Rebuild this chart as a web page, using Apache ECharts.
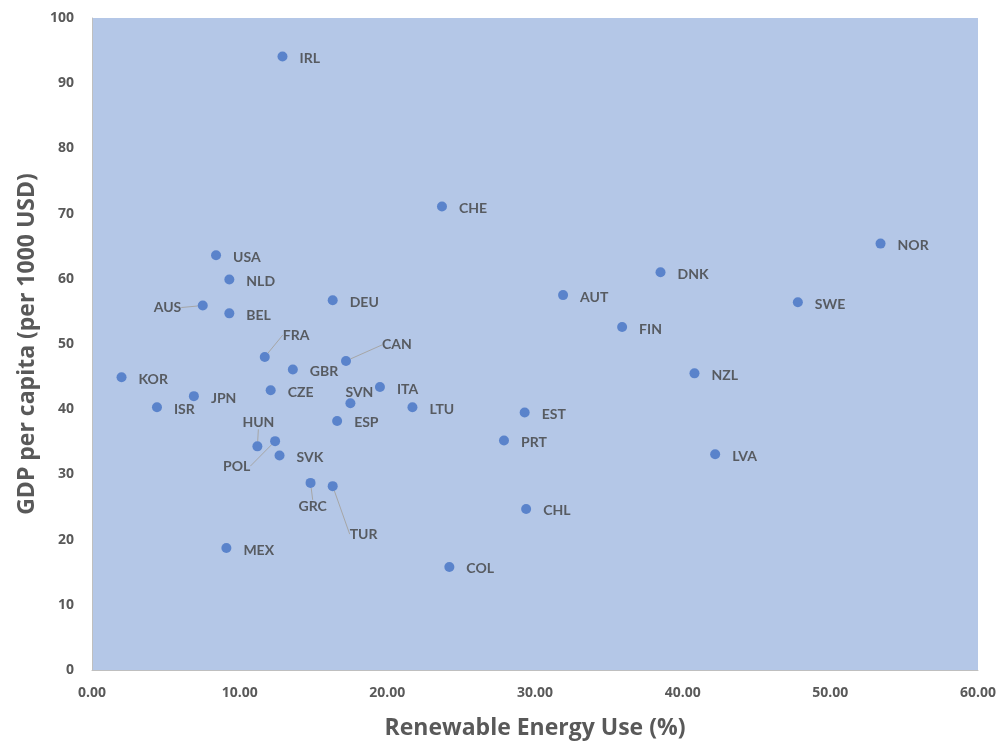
<!DOCTYPE html>
<html>
<head>
<meta charset="utf-8">
<script src="https://cdn.jsdelivr.net/npm/echarts@6/dist/echarts.min.js"></script>
<style>
html,body{margin:0;padding:0;background:#fff;}
#c{width:1005px;height:742px;}
</style>
</head>
<body>
<div id="c"></div>
<script>
const countries = ['IRL','CHE','NOR','USA','NLD','DNK','AUT','DEU','AUS','SWE','BEL','FIN','FRA','CAN','GBR','NZL','KOR','CZE','ITA','JPN','SVN','ISR','LTU','EST','ESP','PRT','HUN','POL','SVK','LVA','GRC','TUR','CHL','MEX','COL'];
const renewable = [12.9,23.7,53.4,8.4,9.3,38.5,31.9,16.3,7.5,47.8,9.3,35.9,11.7,17.2,13.6,40.8,2.0,12.1,19.5,6.9,17.5,4.4,21.7,29.3,16.6,27.9,11.2,12.4,12.7,42.2,14.8,16.3,29.4,9.1,24.2];
const gdp = [94.1,71.1,65.4,63.6,59.9,61.0,57.5,56.7,55.9,56.4,54.7,52.6,48.0,47.4,46.1,45.5,44.9,42.9,43.4,42.0,40.9,40.3,40.3,39.5,38.2,35.2,34.3,35.1,32.9,33.1,28.7,28.2,24.7,18.7,15.8];
const xTicks = [0,10,20,30,40,50,60];
const yTicks = [0,10,20,30,40,50,60,70,80,90,100];

// label displacement (pixels) for labels moved away from default right-side placement
const labelMoves = {
  AUS: {dx: -66, dy: 2, line: true},
  FRA: {dx: 1, dy: -22, line: true},
  CAN: {dx: 19, dy: -16, line: true},
  SVN: {dx: -22, dy: -11, line: false},
  HUN: {dx: -32, dy: -24, line: true},
  POL: {dx: -69, dy: 25, line: true},
  GRC: {dx: -29, dy: 24, line: true},
  TUR: {dx: 0, dy: 48, line: true}
};

const data = countries.map((c, i) => {
  const item = {name: c, value: [renewable[i], gdp[i]]};
  if (labelMoves[c] && labelMoves[c].line) item.labelLine = {show: true};
  return item;
});

const chart = echarts.init(document.getElementById('c'));
chart.setOption({
  animation: false,
  backgroundColor: '#ffffff',
  grid: {left: 92, right: 27, top: 18, bottom: 72, show: true, backgroundColor: '#B4C7E7', borderWidth: 0, containLabel: false, outerBoundsMode: 'none'},
  xAxis: {
    type: 'value', min: xTicks[0], max: xTicks[xTicks.length-1], interval: 10,
    name: 'Renewable Energy Use (%)', nameLocation: 'middle', nameGap: 47,
    nameTextStyle: {fontFamily: 'Open Sans', fontWeight: 'bold', fontSize: 23, color: '#595959'},
    axisLine: {show: true, lineStyle: {color: '#BFBFBF', width: 1}},
    axisTick: {show: false},
    splitLine: {show: false},
    axisLabel: {formatter: v => v.toFixed(2), margin: 16, fontFamily: 'Open Sans', fontWeight: 'bold', fontSize: 14, color: '#595959'}
  },
  yAxis: {
    type: 'value', min: yTicks[0], max: yTicks[yTicks.length-1], interval: 10,
    name: 'GDP per capita (per 1000 USD)', nameLocation: 'middle', nameGap: 53,
    nameTextStyle: {fontFamily: 'Open Sans', fontWeight: 'bold', fontSize: 23, color: '#595959'},
    axisLine: {show: true, lineStyle: {color: '#BFBFBF', width: 1}},
    axisTick: {show: false},
    splitLine: {show: false},
    axisLabel: {margin: 18, fontFamily: 'Open Sans', fontWeight: 'bold', fontSize: 14, color: '#595959'}
  },
  series: [{
    type: 'scatter',
    data: data,
    symbolSize: 10,
    itemStyle: {color: '#4472C4'},
    label: {
      show: true, position: 'right', distance: 12,
      formatter: p => p.name,
      fontFamily: 'Lato', fontWeight: 'bold', fontSize: 14, color: '#404040'
    },
    labelLine: {show: false, lineStyle: {color: '#A6A6A6', width: 1}},
    labelLayout: function (p) {
      const m = labelMoves[countries[p.dataIndex]];
      if (!m) return {dy: 2};
      return {dx: m.dx, dy: m.dy};
    }
  }]
});
</script>
</body>
</html>
